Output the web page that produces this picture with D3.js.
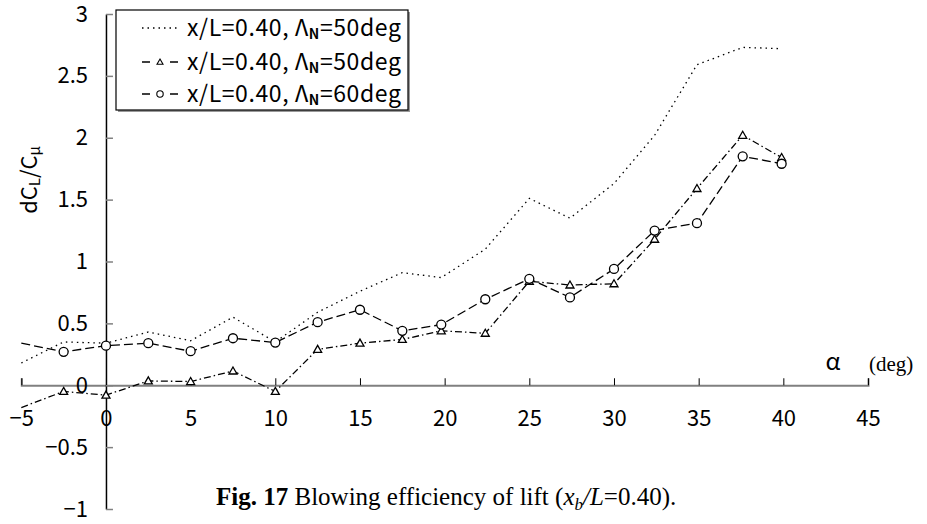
<!DOCTYPE html>
<html>
<head>
<meta charset="utf-8">
<script src="https://cdn.jsdelivr.net/npm/d3@7"></script>
<style>
  body { margin: 0; background: #fff; }
  svg { display: block; }
  .sans { font-family: "Noto Sans CJK JP", "Noto Sans", sans-serif; }
  .serif { font-family: "Liberation Serif", "DejaVu Serif", serif; }
</style>
</head>
<body>
<svg id="chart" width="927" height="524"></svg>
<script>
/* Data */
const alpha = [-5, -2.5, 0, 2.5, 5, 7.5, 10, 12.5, 15, 17.5, 19.8, 22.4, 25, 27.4, 30, 32.4, 34.9, 37.6, 39.9];
const seriesDotted = [0.18, 0.35, 0.34, 0.43, 0.36, 0.55, 0.35, 0.59, 0.76, 0.91, 0.87, 1.10, 1.51, 1.35, 1.63, 2.02, 2.59, 2.73, 2.72];
const seriesTri = [-0.18, -0.05, -0.08, 0.035, 0.03, 0.115, -0.05, 0.29, 0.34, 0.37, 0.44, 0.42, 0.84, 0.81, 0.82, 1.18, 1.59, 2.02, 1.84];
const seriesCirc = [0.34, 0.27, 0.32, 0.34, 0.275, 0.38, 0.345, 0.51, 0.61, 0.44, 0.49, 0.695, 0.86, 0.71, 0.94, 1.25, 1.31, 1.85, 1.79];
const xTicks = [-5, 0, 5, 10, 15, 20, 25, 30, 35, 40, 45];
const yTicks = [-1, -0.5, 0, 0.5, 1, 1.5, 2, 2.5, 3];
const legendLabels = [["x/L=0.40, Λ", "N", "=50deg"], ["x/L=0.40, Λ", "N", "=50deg"], ["x/L=0.40, Λ", "N", "=60deg"]];

/* SVG */
const svg = d3.select('#chart');

/* Scales */
const x = d3.scaleLinear().domain([-5, 45]).range([21.3, 868]);
const y = d3.scaleLinear().domain([-1, 3]).range([509, 14]);
const fmt = d => String(d).replace('-', '\u2212');

/* Axes */
const xAxis = svg.append('g')
  .attr('class', 'sans')
  .attr('transform', `translate(0,${y(0)})`)
  .call(d3.axisBottom(x).tickValues(xTicks).tickFormat(fmt)
    .tickSizeInner(-7).tickSizeOuter(-7).tickPadding(25));
xAxis.select('.domain').attr('stroke', '#808080').attr('stroke-width', 2);
xAxis.selectAll('.tick line').attr('stroke', '#000').attr('stroke-width', 1);
xAxis.selectAll('.tick text').attr('font-size', 22).attr('fill', '#000');
xAxis.attr('font-family', null);

const yAxis = svg.append('g')
  .attr('class', 'sans')
  .attr('transform', `translate(${x(0)},0)`)
  .call(d3.axisLeft(y).tickValues(yTicks).tickFormat(fmt)
    .tickSizeInner(-7).tickSizeOuter(0).tickPadding(18));
yAxis.select('.domain').attr('stroke', '#000').attr('stroke-width', 1.5);
yAxis.selectAll('.tick line').attr('stroke', '#808080').attr('stroke-width', 1.5);
yAxis.selectAll('.tick text').attr('font-size', 22).attr('fill', '#000');
yAxis.attr('font-family', null);

/* Axis titles */
svg.append('text')
  .attr('class', 'sans')
  .attr('transform', `translate(37,180) rotate(-90)`)
  .attr('text-anchor', 'middle')
  .attr('font-size', 22)
  .call(t => {
    t.append('tspan').text('dC');
    t.append('tspan').attr('font-size', 15).attr('dy', 3).text('L');
    t.append('tspan').attr('dy', -3).text('/C');
    t.append('tspan').attr('font-size', 15).attr('dy', 3).text('μ');
  });

svg.append('text').attr('class', 'sans')
  .attr('x', 833).attr('y', 370).attr('text-anchor', 'middle')
  .attr('font-size', 24).text('α');
svg.append('text').attr('class', 'serif')
  .attr('x', 869).attr('y', 371)
  .attr('font-size', 21).text('(deg)');

/* Lines */
const line = d3.line().x(d => x(d[0])).y(d => y(d[1]));
const series = [
  { values: seriesDotted, dash: '1.5,4', marker: null },
  { values: seriesTri, dash: '7,3,1.5,3', marker: 'tri' },
  { values: seriesCirc, dash: '9,4', marker: 'circ' }
];

const triPath = s => `M0,${-s}L${s},${s * 0.75}L${-s},${s * 0.75}Z`;

series.forEach(s => {
  const pts = alpha.map((a, i) => [a, s.values[i]]);
  svg.append('path')
    .attr('d', line(pts))
    .attr('fill', 'none')
    .attr('stroke', '#000')
    .attr('stroke-width', 1.3)
    .attr('stroke-dasharray', s.dash);
  if (s.marker === 'tri') {
    svg.selectAll(null).data(pts.slice(1)).enter().append('path')
      .attr('d', triPath(4))
      .attr('transform', d => `translate(${x(d[0])},${y(d[1])})`)
      .attr('fill', '#fff').attr('stroke', '#000').attr('stroke-width', 1.3);
  } else if (s.marker === 'circ') {
    svg.selectAll(null).data(pts.slice(1)).enter().append('circle')
      .attr('cx', d => x(d[0])).attr('cy', d => y(d[1])).attr('r', 4.5)
      .attr('fill', '#fff').attr('stroke', '#000').attr('stroke-width', 1.3);
  }
});

/* Legend */
const legend = svg.append('g').attr('class', 'sans');
legend.append('rect').attr('x', 118).attr('y', 12).attr('width', 292).attr('height', 100)
  .attr('fill', '#999');
legend.append('rect').attr('x', 116).attr('y', 10).attr('width', 292).attr('height', 100)
  .attr('fill', '#fff').attr('stroke', '#000').attr('stroke-width', 1.2);

const rowY = [28, 62, 94];
series.forEach((s, i) => {
  const g = legend.append('g').attr('transform', `translate(0,${rowY[i]})`);
  g.append('line').attr('x1', 142).attr('x2', 178).attr('y1', 0).attr('y2', 0)
    .attr('stroke', '#000').attr('stroke-width', 1.3)
    .attr('stroke-dasharray', s.marker ? '8,20,8' : s.dash);
  if (s.marker === 'tri') {
    g.append('path').attr('d', triPath(3)).attr('transform', 'translate(160,0)')
      .attr('fill', '#fff').attr('stroke', '#000').attr('stroke-width', 1.1);
  } else if (s.marker === 'circ') {
    g.append('circle').attr('cx', 160).attr('cy', 0).attr('r', 3.2)
      .attr('fill', '#fff').attr('stroke', '#000').attr('stroke-width', 1.1);
  }
  const t = g.append('text').attr('x', 187).attr('y', 8).attr('font-size', 23)
    .attr('letter-spacing', 0.6);
  t.append('tspan').text(legendLabels[i][0]);
  t.append('tspan').attr('font-size', 14).attr('font-weight', 'bold').attr('dy', 3).text(legendLabels[i][1]);
  t.append('tspan').attr('dy', -3).text(legendLabels[i][2]);
});

/* Caption */
const cap = svg.append('text').attr('class', 'serif')
  .attr('x', 216).attr('y', 505).attr('font-size', 25);
cap.append('tspan').attr('font-weight', 'bold').text('Fig. 17');
cap.append('tspan').text(' Blowing efficiency of lift (');
cap.append('tspan').attr('font-style', 'italic').text('x');
cap.append('tspan').attr('font-style', 'italic').attr('font-size', 17).attr('dy', 5).text('b');
cap.append('tspan').attr('font-style', 'italic').attr('dy', -5).text('/L');
cap.append('tspan').text('=0.40).');
</script>
</body>
</html>
